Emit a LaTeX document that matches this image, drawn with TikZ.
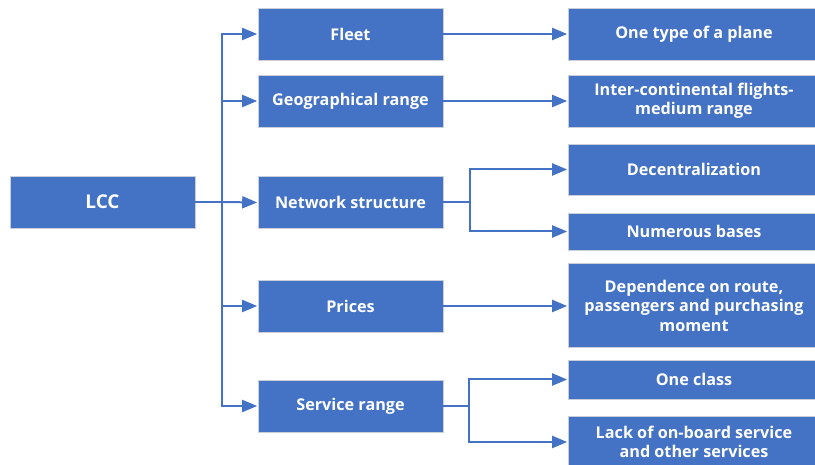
\documentclass[tikz,border=0pt]{standalone}
\usepackage{fontspec}
\setmainfont{Open Sans}
\definecolor{lccblue}{HTML}{4472C4}
\definecolor{lccedge}{HTML}{C9CED8}
\usetikzlibrary{arrows.meta}

\begin{document}
\begin{tikzpicture}[x=1pt, y=-1pt,
  box/.style={draw=lccedge, line width=0.8pt, fill=lccblue, text=white, inner sep=0pt, align=center, font=\fontsize{16.2}{19.5}\selectfont\bfseries},
  mainbox/.style={box, minimum width=185pt, minimum height=52pt},
  subbox/.style={box, minimum width=252pt},
  link/.style={draw=lccblue, line width=2pt},
  arrowlink/.style={link, -{Triangle[length=15pt, width=12pt]}, shorten >=0.4pt}]
\useasboundingbox (0,0) rectangle (815,465);

\node[mainbox, font=\fontsize{19}{22}\selectfont\bfseries] (lcc) at (102.5,202) {LCC};

\node[mainbox] (fleet) at (350.5,34) {Fleet};
\node[mainbox] (geo) at (350.5,101) {Geographical range};
\node[mainbox] (network) at (350.5,202.5) {Network structure};
\node[mainbox] (prices) at (350.5,306) {Prices};
\node[mainbox] (service) at (350.5,406) {Service range};

\node[subbox, minimum height=52pt] (planetype) at (694,34) {One type of a plane};
\node[subbox, minimum height=52pt] (intercont) at (694,101) {Inter-continental flights-\\medium range};
\node[subbox, minimum height=51pt] (decentral) at (694,169.5) {Decentralization};
\node[subbox, minimum height=37pt] (bases) at (694,231.5) {Numerous bases};
\node[subbox, minimum height=84pt] (dependence) at (694,305.5) {Dependence on route,\\passengers and purchasing\\moment};
\node[subbox, minimum height=39pt] (oneclass) at (694,379.5) {One class};
\node[subbox, minimum height=52pt] (lackservice) at (694,442) {Lack of on-board service\\and other services};

\coordinate (hub) at (222,202);
\coordinate (netfork) at (470,202.5);
\coordinate (servfork) at (469,406);

\draw[link, line width=2.6pt] (lcc.east) -- (hub);
\draw[arrowlink] (hub) |- (fleet.west);
\draw[arrowlink] (hub) |- (geo.west);
\draw[arrowlink] (hub) -- (network.west);
\draw[arrowlink] (hub) |- (prices.west);
\draw[arrowlink] (hub) |- (service.west);

\draw[arrowlink] (fleet.east) -- (planetype.west);
\draw[arrowlink] (geo.east) -- (intercont.west);
\draw[link] (network.east) -- (netfork);
\draw[arrowlink] (netfork) |- (decentral.west);
\draw[arrowlink] (netfork) |- (bases.west);
\draw[arrowlink] (prices.east) -- (prices.east -| dependence.west);
\draw[link] (service.east) -- (servfork);
\draw[arrowlink] (servfork) |- (oneclass.west);
\draw[arrowlink] (servfork) |- (lackservice.west);
\end{tikzpicture}
\end{document}
